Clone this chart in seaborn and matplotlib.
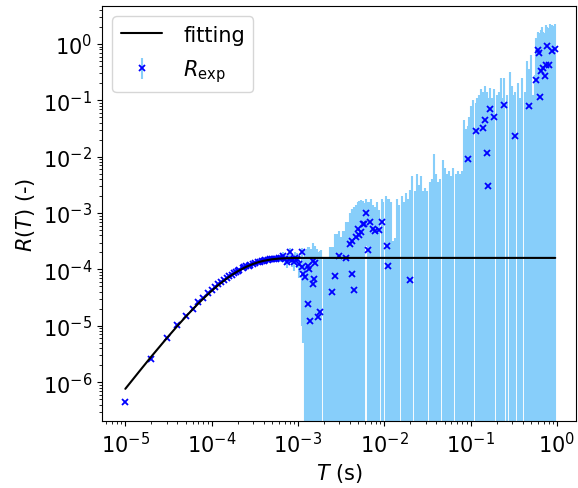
import matplotlib
matplotlib.use("Agg")
import matplotlib.pyplot as plt
import pandas as pd
import seaborn as sns

# ---------------------------------------------------------------------------
# Fitted model curve R(T)
# ---------------------------------------------------------------------------
t_fit = [1e-5, 1.5e-5, 2e-5, 3e-5, 4e-5, 5e-5, 6e-5, 7e-5, 8e-5, 1e-4,
         1.2e-4, 1.5e-4, 1.75e-4, 2e-4, 2.5e-4, 3e-4, 3.5e-4, 4e-4, 5e-4,
         6e-4, 7e-4, 8e-4, 1e-3, 1.5e-3, 0.955]
r_fit = [7.60e-7, 1.65e-6, 2.84e-6, 5.95e-6, 9.88e-6, 1.443e-5, 1.944e-5,
         2.48e-5, 3.03e-5, 4.17e-5, 5.30e-5, 6.92e-5, 8.15e-5, 9.25e-5,
         1.108e-4, 1.247e-4, 1.348e-4, 1.422e-4, 1.511e-4, 1.556e-4,
         1.578e-4, 1.589e-4, 1.597e-4, 1.600e-4, 1.600e-4]

# ---------------------------------------------------------------------------
# Measured R(T): short lags, close to the model
# ---------------------------------------------------------------------------
t_near = [1e-5, 2e-5, 3e-5, 4e-5, 5e-5, 6e-5, 7e-5, 8e-5, 9e-5, 1.0e-4,
          1.1e-4, 1.2e-4, 1.3e-4, 1.4e-4, 1.5e-4, 1.6e-4, 1.7e-4, 1.8e-4,
          1.9e-4, 2.0e-4, 2.1e-4,
          2.3e-4, 2.4e-4, 2.5e-4, 2.7e-4, 2.8e-4, 3.0e-4, 3.2e-4, 3.4e-4,
          3.6e-4, 3.8e-4, 4.0e-4, 4.2e-4, 4.5e-4, 4.7e-4, 5.0e-4, 5.3e-4,
          5.6e-4, 6.0e-4,
          6.3e-4, 6.76e-4, 7.1e-4, 7.41e-4, 7.8e-4, 8.13e-4, 8.5e-4, 8.91e-4,
          9.3e-4, 9.7e-4,
          1.02e-3, 1.10e-3, 1.12e-3, 1.15e-3]
r_near = [4.4e-7, 2.6e-6, 6.0e-6, 1.04e-5, 1.50e-5, 2.00e-5, 2.62e-5, 3.15e-5,
          3.75e-5, 4.35e-5,
          4.85e-5, 5.45e-5, 5.95e-5, 6.55e-5, 7.0e-5, 7.6e-5, 8.0e-5, 8.6e-5,
          8.9e-5, 9.5e-5, 9.7e-5,
          1.06e-4, 1.09e-4, 1.13e-4, 1.16e-4, 1.22e-4, 1.26e-4, 1.29e-4,
          1.35e-4, 1.36e-4, 1.41e-4, 1.42e-4, 1.47e-4, 1.47e-4, 1.51e-4,
          1.52e-4, 1.55e-4, 1.53e-4, 1.58e-4,
          1.62e-4, 1.74e-4, 1.50e-4, 1.35e-4, 1.55e-4, 2.04e-4, 1.45e-4,
          1.35e-4, 1.62e-4, 1.50e-4,
          1.26e-4, 2.04e-4, 1.10e-4, 8.3e-5]
e_near = [2e-8, 1e-7, 2e-7, 3e-7, 4e-7, 5e-7, 7e-7, 9e-7, 1.1e-6, 1.3e-6,
          1.5e-6, 1.7e-6, 2e-6, 2.2e-6, 2.5e-6, 2.8e-6, 3e-6, 3.3e-6, 3.6e-6,
          4e-6, 4.3e-6,
          4.8e-6, 5e-6, 5.5e-6, 6e-6, 6.5e-6, 7e-6, 8e-6, 9e-6, 1e-5, 1.1e-5,
          1.2e-5, 1.3e-5, 1.4e-5, 1.5e-5, 1.6e-5, 1.8e-5, 2e-5, 2.2e-5,
          2.4e-5, 2.6e-5, 2.8e-5, 3.0e-5, 3.2e-5, 3.4e-5, 3.6e-5, 4e-5,
          4.2e-5, 4.5e-5,
          5.5e-5, 3.5e-5, 1.0e-4, 7.8e-5]

# ---------------------------------------------------------------------------
# Measured R(T): long lags, noisy (positive estimates)
# ---------------------------------------------------------------------------
t_noisy = [1.20e-3, 1.31e-3, 1.32e-3, 1.35e-3, 1.38e-3, 1.48e-3, 1.51e-3,
           1.52e-3, 1.58e-3, 1.70e-3, 1.78e-3,
           2.45e-3, 2.69e-3, 3.02e-3, 3.63e-3, 3.98e-3, 4.20e-3, 4.27e-3,
           4.47e-3, 4.68e-3, 4.90e-3, 5.13e-3, 5.37e-3, 5.62e-3, 5.89e-3,
           6.17e-3, 6.46e-3, 6.76e-3, 7.41e-3, 7.76e-3, 8.71e-3, 9.33e-3,
           1.07e-2, 1.10e-2, 1.995e-2,
           9.33e-2, 0.115, 0.138, 0.147, 0.153, 0.160, 0.167, 0.188, 0.245,
           0.327, 0.471, 0.571, 0.608, 0.612, 0.635, 0.661, 0.692, 0.735,
           0.741, 0.776, 0.813, 0.871, 0.955]
r_noisy = [7.24e-5, 1.17e-4, 2.4e-5, 1.02e-4, 1.2e-5, 5.5e-5, 1.41e-4,
           6.8e-5, 1.29e-4, 1.41e-5, 1.74e-5,
           3.98e-5, 7.76e-5, 1.70e-4, 1.62e-4, 2.82e-4, 8.3e-5, 3.24e-4,
           4.37e-5, 3.72e-4, 5.25e-4, 4.07e-4, 4.57e-4, 6.46e-4, 6.46e-4,
           1.02e-3, 2.24e-4, 7.08e-4, 5.25e-4, 4.79e-4, 5.0e-4, 6.92e-4,
           2.63e-4, 1.17e-4, 6.46e-5,
           9.1e-3, 2.88e-2, 3.24e-2, 4.57e-2, 1.15e-2, 3.0e-3, 7.08e-2,
           5.13e-2, 8.13e-2, 2.34e-2, 7.94e-2, 0.229, 0.794, 0.692, 0.117,
           0.331, 0.372, 0.275, 0.417, 0.912, 0.417, 0.741, 0.822]
e_noisy = [1.5e-4, 1.28e-4, 1.96e-4, 1.48e-4, 2.18e-4, 1.65e-4, 1.5e-4,
           1.52e-4, 1.36e-4, 1.86e-4, 1.93e-4,
           2.1e-4, 3.5e-4, 3.1e-4, 5.3e-4, 7.2e-4, 1.04e-3, 8.8e-4, 1.22e-3,
           1.04e-3, 1.06e-3, 1.25e-3, 1.28e-3, 1.01e-3, 8.7e-4, 7.6e-4,
           1.36e-3, 8.7e-4, 8.9e-4, 7.8e-4, 6.2e-4, 1.09e-3, 1.52e-3,
           1.14e-3, 2.45e-3,
           2.6e-2, 6.0e-2, 0.109, 0.132, 0.13, 0.109, 0.095, 0.107, 0.17,
           0.118, 0.275, 1.03, 0.85, 0.72, 1.47, 1.45, 1.29, 1.14, 1.58,
           1.09, 1.49, 1.40, 1.42]

# ---------------------------------------------------------------------------
# Measured R(T): long lags with negative estimates (only the bars show)
# ---------------------------------------------------------------------------
t_negative = [1.26e-3, 1.44e-3, 1.64e-3, 1.86e-3, 1.98e-3, 2.11e-3, 2.24e-3,
              2.37e-3, 2.57e-3, 2.82e-3, 3.16e-3, 3.35e-3, 3.51e-3, 3.80e-3,
              4.07e-3, 7.08e-3, 8.13e-3, 8.32e-3, 9.77e-3, 1.035e-2,
              1.122e-2, 1.189e-2, 1.259e-2, 1.334e-2, 1.413e-2, 1.496e-2,
              1.585e-2, 1.679e-2, 1.778e-2, 1.884e-2, 2.113e-2, 2.239e-2,
              2.371e-2, 2.512e-2, 2.661e-2, 2.818e-2, 2.985e-2, 3.162e-2,
              3.350e-2, 3.548e-2, 3.758e-2, 3.981e-2, 4.217e-2, 4.467e-2,
              4.732e-2, 5.012e-2, 5.309e-2, 5.623e-2, 5.957e-2, 6.310e-2,
              6.683e-2, 7.079e-2, 7.499e-2, 7.943e-2, 8.414e-2, 8.913e-2,
              9.6e-2, 0.100, 0.106, 0.119, 0.126, 0.133, 0.178, 0.200, 0.211,
              0.224, 0.237, 0.266, 0.282, 0.299, 0.316, 0.355, 0.376, 0.398,
              0.422, 0.447, 0.501, 0.531, 0.562, 0.596, 0.668, 0.708, 0.750,
              0.794, 0.841, 0.891, 0.933]
r_negative = [-3e-5, -2e-5, -4e-5, -3e-5, -4e-5, -5e-5, -3e-5, -5e-5, -4e-5,
              -6e-5, -5e-5, -8e-5, -6e-5, -1e-4, -1.5e-4, -3e-4, -2e-4, -1e-4,
              -3e-4, -4e-4,
              -4e-4, -3e-4, -1e-4, -1e-4, -5e-4, -3e-4, -5e-4, -4e-4, -6e-4,
              -5e-4, -1e-3, -6e-4, -1.5e-3, -8e-4, -1e-3, -7e-4, -8e-4, -6e-4,
              -1e-3, -1e-3, -3e-3, -1.5e-3, -1e-3, -1e-3, -2e-3, -2e-3,
              -1.5e-3, -1.5e-3, -1e-3, -2e-3, -1.5e-3, -1.5e-3, -1.5e-3,
              -1.5e-3, -1e-2, -8e-3,
              -1e-2, -2e-2, -3e-2, -3e-2, -4e-2, -5e-2, -2e-2, -5e-2, -4e-2,
              -6e-2, -3e-2, -5e-2, -8e-2, -6e-2, -4e-2, -7e-2, -3e-2, -9e-2,
              -5e-2, -0.1, -0.15, -3e-2, -8e-2, -0.3, -0.4, -0.3, -0.5, -0.4,
              -0.5, -0.4, -0.5]
e_negative = [2.6e-4, 2.5e-4, 2.7e-4, 2.5e-4, 2.0e-4, 2.1e-4, 1.9e-4, 3.0e-4,
              2.9e-4, 4.9e-4, 4.3e-4, 5.6e-4, 5.4e-4, 7.9e-4, 8.4e-4, 2.08e-3,
              1.78e-3, 1.26e-3, 1.9e-3, 2.4e-3,
              2.18e-3, 1.88e-3, 4.16e-4, 4.55e-4, 2.28e-3, 1.71e-3, 2.5e-3,
              1.98e-3, 2.84e-3, 2.28e-3, 5.47e-3, 3.11e-3, 6.51e-3, 3.96e-3,
              5.47e-3, 3.21e-3, 3.62e-3, 3.11e-3, 4.55e-3, 4.98e-3, 1.42e-2,
              6.51e-3, 4.55e-3, 4.98e-3, 1.09e-2, 8.31e-3, 6.51e-3, 7.12e-3,
              5.47e-3, 8.31e-3, 6.51e-3, 7.12e-3, 6.51e-3, 7.12e-3, 5.47e-2,
              3.96e-2,
              6.0e-2, 9.9e-2, 0.13, 0.142, 0.166, 0.208, 0.132, 0.176, 0.181,
              0.311, 0.142, 0.176, 0.396, 0.238, 0.166, 0.27, 0.142, 0.341,
              0.191, 0.601, 0.781, 0.156, 0.362, 1.88, 2.4, 1.88, 2.64, 2.18,
              2.79, 2.4, 2.59]

# Axis ranges
x_range = (5.37e-6, 1.66)
y_range = (2.04e-7, 4.73)

# ---------------------------------------------------------------------------
# Style
# ---------------------------------------------------------------------------
sns.set_theme(style="ticks", rc={
    "axes.edgecolor": "black",
    "axes.labelcolor": "black",
    "text.color": "black",
    "xtick.color": "black",
    "ytick.color": "black",
    "axes.linewidth": 0.8,
    "xtick.major.size": 3.5, "ytick.major.size": 3.5,
    "xtick.minor.size": 2.0, "ytick.minor.size": 2.0,
    "xtick.major.width": 0.8, "ytick.major.width": 0.8,
    "xtick.minor.width": 0.6, "ytick.minor.width": 0.6,
    "font.size": 15,
    "axes.labelsize": 15,
    "xtick.labelsize": 15,
    "ytick.labelsize": 15,
    "legend.fontsize": 15,
    "lines.linewidth": 1.5,
})
plt.rcParams["font.family"] = ["DejaVu Sans"]
plt.rcParams["mathtext.fontset"] = "dejavusans"

fig = plt.figure(figsize=(5.78, 4.89), dpi=100)
ax = fig.add_axes([0.1765, 0.137, 0.820, 0.8487])
ax.set_xscale("log")
ax.set_yscale("log")

t_exp = t_near + t_noisy + t_negative
r_exp = r_near + r_noisy + r_negative
e_exp = e_near + e_noisy + e_negative

ax.errorbar(t_exp, r_exp, yerr=e_exp, fmt="x", color="blue",
            ecolor="lightskyblue", markersize=5, markeredgewidth=1.3,
            elinewidth=1.5, label=r"$R_\mathrm{exp}$")

fit_df = pd.DataFrame({"T": t_fit, "R": r_fit})
sns.lineplot(data=fit_df, x="T", y="R", color="black", linewidth=1.5,
             ax=ax, label="fitting", zorder=3)

ax.set_xlim(*x_range)
ax.set_ylim(*y_range)
ax.set_xlabel(r"$T$ (s)")
ax.set_ylabel(r"$R(T)$ (-)")
ax.xaxis.get_offset_text().set_visible(False)
ax.yaxis.get_offset_text().set_visible(False)
ax.legend(loc="upper left", labelspacing=0.6, handletextpad=1.0)

fig.savefig("out.png", dpi=100)
